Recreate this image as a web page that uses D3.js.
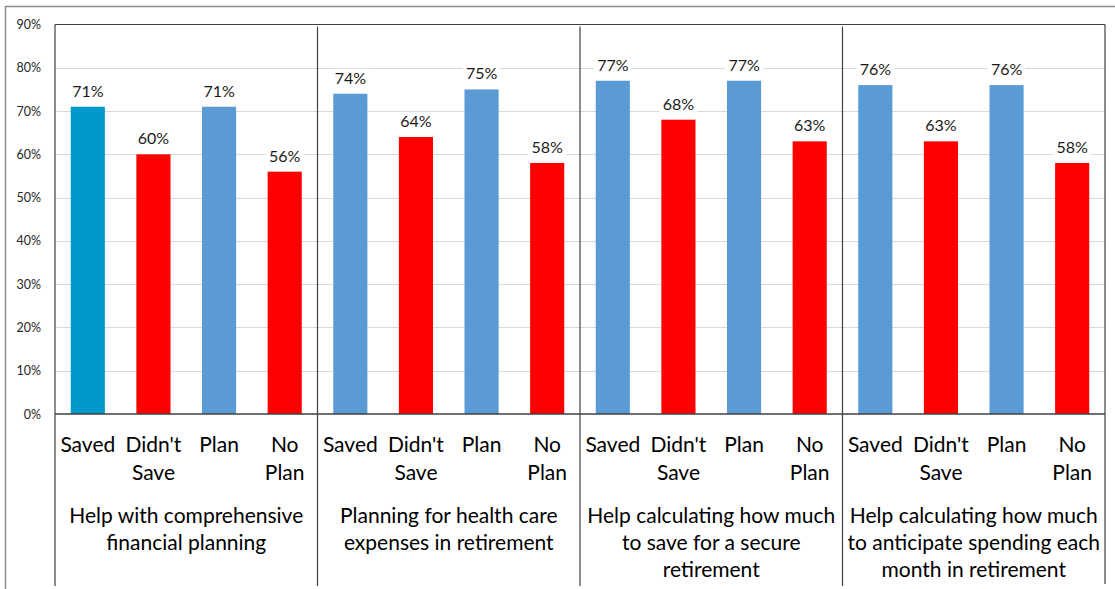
<!DOCTYPE html>
<html>
<head>
<meta charset="utf-8">
<script src="https://cdn.jsdelivr.net/npm/d3@7"></script>
<style>
  html, body { margin: 0; padding: 0; background: #fff; }
  svg { display: block; }
  text { font-family: 'Lato', 'Carlito', 'Open Sans', sans-serif; }
</style>
</head>
<body>
<svg id="chart" width="1115" height="589"></svg>
<script>
// ---- data ----
const groups = [
  ["Help with comprehensive", "financial planning"],
  ["Planning for health care", "expenses in retirement"],
  ["Help calculating how much", "to save for a secure", "retirement"],
  ["Help calculating how much", "to anticipate spending each", "month in retirement"]
];
const subCategories = [["Saved"], ["Didn't", "Save"], ["Plan"], ["No", "Plan"]];
const values = [
  [0.71, 0.60, 0.71, 0.56],
  [0.74, 0.64, 0.75, 0.58],
  [0.77, 0.68, 0.77, 0.63],
  [0.76, 0.63, 0.76, 0.58]
];
const yTicks = [0, 0.1, 0.2, 0.3, 0.4, 0.5, 0.6, 0.7, 0.8, 0.9];

// ---- layout ----
const W = 1115, H = 589;
const plot = { left: 55, right: 1105, top: 24.5, bottom: 414 };
const svg = d3.select("#chart");

const x0 = d3.scaleBand().domain(d3.range(groups.length)).range([plot.left, plot.right]).paddingInner(0).paddingOuter(0);
const x1 = d3.scaleBand().domain(d3.range(subCategories.length)).range([0, x0.bandwidth()]).paddingInner(0.48).paddingOuter(0.24);
const y = d3.scaleLinear().domain([0, 0.9]).range([plot.bottom, plot.top]);

const colorFor = (g, i) => (g === 0 && i === 0) ? "#0099CC" : (i % 2 === 0 ? "#5B9BD5" : "#FF0000");

// outer chart border
svg.append("rect")
  .attr("x", 5.5).attr("y", 6.5)
  .attr("width", W + 20).attr("height", H + 20)
  .attr("fill", "none").attr("stroke", "#8c8c8c").attr("stroke-width", 1.5);

// gridlines
svg.append("g").selectAll("line")
  .data(yTicks.filter(t => t > 0 && t < 0.9))
  .join("line")
  .attr("x1", plot.left).attr("x2", plot.right)
  .attr("y1", d => Math.round(y(d)) + 0.5).attr("y2", d => Math.round(y(d)) + 0.5)
  .attr("stroke", "#d9d9d9").attr("stroke-width", 1);

// y axis labels
const yAxis = d3.axisLeft(y).tickValues(yTicks).tickFormat(d3.format(".0%")).tickSize(0).tickPadding(14);
const yG = svg.append("g").attr("transform", `translate(${plot.left},0)`).call(yAxis);
yG.select(".domain").remove();
yG.selectAll("text").attr("font-size", 12.5).attr("fill", "#262626")
  .style("font-family", "'Lato', 'Carlito', sans-serif");

// bars
const gG = svg.append("g").selectAll("g")
  .data(values)
  .join("g")
  .attr("transform", (d, g) => `translate(${x0(g)},0)`);

gG.selectAll("rect")
  .data((d, g) => d.map((v, i) => ({ v, i, g })))
  .join("rect")
  .attr("x", d => x1(d.i))
  .attr("width", x1.bandwidth())
  .attr("y", d => y(d.v))
  .attr("height", d => y(0) - y(d.v))
  .attr("fill", d => colorFor(d.g, d.i));

// value labels with white background
const lab = gG.selectAll("g.lab")
  .data((d, g) => d.map((v, i) => ({ v, i, g })))
  .join("g").attr("class", "lab")
  .attr("transform", d => `translate(${x1(d.i) + x1.bandwidth() / 2},${y(d.v) - 10})`);
lab.append("rect")
  .attr("x", -19).attr("y", -15).attr("width", 38).attr("height", 19)
  .attr("fill", "#fff");
lab.append("text")
  .attr("text-anchor", "middle")
  .attr("font-size", 16).attr("fill", "#1a1a1a")
  .text(d => d3.format(".0%")(d.v));

// plot frame lines
const frame = svg.append("g").attr("stroke", "#404040").attr("stroke-width", 1.2).attr("fill", "none");
frame.append("line").attr("x1", plot.left).attr("x2", plot.right).attr("y1", plot.top).attr("y2", plot.top);
frame.append("line").attr("x1", plot.left).attr("x2", plot.right).attr("y1", plot.bottom).attr("y2", plot.bottom).attr("stroke-width", 1.6);
frame.append("line").attr("x1", plot.left).attr("x2", plot.left).attr("y1", plot.top).attr("y2", 586);
frame.append("line").attr("x1", plot.right).attr("x2", plot.right).attr("y1", plot.top).attr("y2", 584);
// group dividers
frame.selectAll("line.div")
  .data(d3.range(1, groups.length))
  .join("line").attr("class", "div")
  .attr("x1", g => x0(g)).attr("x2", g => x0(g))
  .attr("y1", plot.top + 2).attr("y2", 586);

// sub-category labels
const subG = svg.append("g");
groups.forEach((grp, g) => {
  subCategories.forEach((lines, i) => {
    const cx = x0(g) + x1(i) + x1.bandwidth() / 2;
    const t = subG.append("text").attr("text-anchor", "middle")
      .attr("font-size", 21).attr("fill", "#000");
    lines.forEach((ln, k) => {
      t.append("tspan").attr("x", cx).attr("y", 451.5 + k * 28.3).text(ln);
    });
  });
  const cx = x0(g) + x0.bandwidth() / 2;
  const t = subG.append("text").attr("text-anchor", "middle")
    .attr("font-size", 21).attr("fill", "#000");
  grp.forEach((ln, k) => {
    t.append("tspan").attr("x", cx).attr("y", 523 + k * 27).text(ln);
  });
});
</script>
</body>
</html>
